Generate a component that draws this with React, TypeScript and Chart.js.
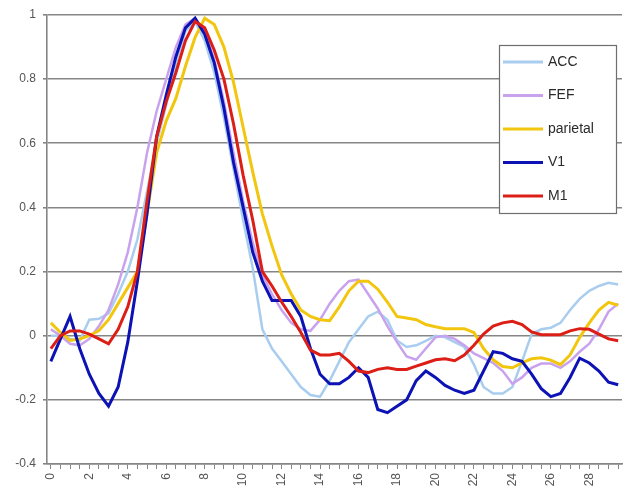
import { useEffect, useRef } from 'react';
import { Chart, registerables } from 'chart.js';

Chart.register(...registerables);

// time axis (sample positions)
const T = [
  0, 0.5, 1, 1.5, 2, 2.5, 3, 3.5, 4, 4.5,
  5, 5.5, 6, 6.5, 7, 7.5, 8, 8.5, 9, 9.5,
  10, 10.5, 11, 11.5, 12, 12.5, 13, 13.5, 14, 14.5,
  15, 15.5, 16, 16.5, 17, 17.5, 18, 18.5, 19, 19.5,
  20, 20.5, 21, 21.5, 22, 22.5, 23, 23.5, 24, 24.5,
  25, 25.5, 26, 26.5, 27, 27.5, 28, 28.5, 29, 29.5,
];

const ACC = [
  0.0, 0.0, -0.01, -0.015, 0.05, 0.053, 0.07, 0.13, 0.2, 0.3,
  0.45, 0.6, 0.72, 0.85, 0.95, 0.98, 0.92, 0.82, 0.68, 0.52,
  0.36, 0.21, 0.02, -0.04, -0.08, -0.12, -0.16, -0.185, -0.19, -0.14,
  -0.08, -0.02, 0.02, 0.06, 0.075, 0.05, -0.015, -0.035, -0.03, -0.016,
  0.0, -0.005, -0.02, -0.035, -0.09, -0.16, -0.18, -0.18, -0.16, -0.08,
  0.005, 0.02, 0.025, 0.04, 0.08, 0.115, 0.14, 0.155, 0.165, 0.16,
];

const FEF = [
  0.02, 0.0, -0.025, -0.03, -0.01, 0.03, 0.08, 0.16, 0.26, 0.4,
  0.57, 0.7, 0.8, 0.9, 0.97, 0.99, 0.95, 0.86, 0.73, 0.57,
  0.42, 0.29, 0.19, 0.13, 0.08, 0.04, 0.02, 0.015, 0.05, 0.1,
  0.14, 0.17, 0.175, 0.13, 0.085, 0.03, -0.02, -0.065, -0.075, -0.04,
  -0.005, 0.0, -0.01, -0.03, -0.055, -0.07, -0.085, -0.11, -0.15, -0.13,
  -0.1, -0.087, -0.087, -0.1, -0.08, -0.05, -0.025, 0.02, 0.075, 0.1,
];

const PARIETAL = [
  0.04, 0.01, -0.015, -0.01, 0.0, 0.016, 0.05, 0.1, 0.15, 0.2,
  0.38, 0.57, 0.67, 0.74, 0.84, 0.93, 0.99, 0.97, 0.9, 0.79,
  0.65, 0.51, 0.38, 0.28, 0.19, 0.13, 0.08, 0.06, 0.05, 0.047,
  0.09, 0.14, 0.17, 0.17, 0.145, 0.105, 0.06, 0.055, 0.05, 0.035,
  0.028, 0.022, 0.022, 0.022, 0.01, -0.04, -0.075, -0.096, -0.1, -0.085,
  -0.072, -0.069, -0.076, -0.09, -0.06, -0.005, 0.04, 0.08, 0.104, 0.095,
];

const V1 = [
  -0.08, -0.01, 0.06, -0.04, -0.12, -0.18, -0.22, -0.16, -0.02, 0.17,
  0.38, 0.62, 0.75, 0.87, 0.96, 0.99, 0.94, 0.85, 0.71, 0.54,
  0.4, 0.26, 0.17, 0.11, 0.11, 0.11, 0.06, -0.04, -0.12, -0.15,
  -0.15, -0.13, -0.1, -0.13, -0.23, -0.24, -0.22, -0.2, -0.14, -0.11,
  -0.13, -0.155, -0.17, -0.18, -0.17, -0.11, -0.05, -0.055, -0.072, -0.08,
  -0.12, -0.165, -0.19, -0.18, -0.13, -0.07, -0.085, -0.11, -0.145, -0.153,
];

const M1 = [
  -0.04, 0.0, 0.015, 0.015, 0.005, -0.01, -0.025, 0.02, 0.09, 0.2,
  0.42, 0.62, 0.73, 0.82, 0.92, 0.98, 0.96, 0.89, 0.8, 0.66,
  0.5, 0.36, 0.2, 0.155, 0.105, 0.06, 0.01, -0.045, -0.06, -0.06,
  -0.055, -0.08, -0.11, -0.115, -0.105, -0.1, -0.105, -0.105, -0.095, -0.085,
  -0.075, -0.072, -0.078, -0.06, -0.03, 0.005, 0.03, 0.04, 0.045, 0.035,
  0.012, 0.003, 0.003, 0.003, 0.015, 0.022, 0.02, 0.005, -0.01, -0.016,
];

const SERIES_NAMES = ['ACC', 'FEF', 'parietal', 'V1', 'M1'];
const SERIES_COLORS = ['#a9cdee', '#c9a2ee', '#f2c60e', '#0c12b4', '#dc1f16'];
const SERIES_WIDTHS = [2.5, 2.5, 3, 3, 3];
const X_TICK_LABELS = ['0', '2', '4', '6', '8', '10', '12', '14', '16', '18', '20', '22', '24', '26', '28'];
const X_MINOR_TICKS = T;

const FONT = '"Liberation Sans", Arial, sans-serif';
const GRID = '#858585';

const legendPlugin = {
  id: 'boxLegend',
  afterDraw(chart: any) {
    const { ctx, chartArea } = chart;
    const bx = chartArea.right - 123;
    const by = chartArea.top + 30;
    const bw = 117;
    const bh = 168;
    ctx.save();
    ctx.fillStyle = '#ffffff';
    ctx.fillRect(bx, by, bw, bh);
    ctx.strokeStyle = '#6e6e6e';
    ctx.lineWidth = 1.2;
    ctx.strokeRect(bx + 0.5, by + 0.5, bw, bh);
    ctx.font = `14px ${FONT}`;
    ctx.textBaseline = 'middle';
    chart.data.datasets.forEach((ds: any, i: number) => {
      const y = by + 17 + i * 33.5;
      ctx.strokeStyle = ds.borderColor;
      ctx.lineWidth = 3;
      ctx.beginPath();
      ctx.moveTo(bx + 4, y);
      ctx.lineTo(bx + 44, y);
      ctx.stroke();
      ctx.fillStyle = '#2a2a2a';
      ctx.fillText(ds.label, bx + 49, y);
    });
    ctx.restore();
  },
};

export default function App() {
  const ref = useRef<HTMLCanvasElement>(null);
  useEffect(() => {
    const series = [ACC, FEF, PARIETAL, V1, M1];
    const chart = new Chart(ref.current!, {
      type: 'line',
      data: {
        datasets: series.map((vals, i) => ({
          label: SERIES_NAMES[i],
          data: vals.map((v, j) => ({ x: T[j], y: v })),
          borderColor: SERIES_COLORS[i],
          backgroundColor: SERIES_COLORS[i],
          borderWidth: SERIES_WIDTHS[i],
          pointRadius: 0,
          tension: 0,
          order: 4 - i,
        })),
      },
      options: {
        animation: false,
        responsive: true,
        maintainAspectRatio: false,
        layout: { padding: { top: 15, right: 3, left: 0, bottom: 0 } },
        plugins: { legend: { display: false }, tooltip: { enabled: false } },
        scales: {
          x: {
            type: 'linear',
            min: -0.2,
            max: 29.7,
            afterBuildTicks: (scale: any) => {
              scale.ticks = X_MINOR_TICKS.map((v) => ({ value: v }));
            },
            afterFit: (scale: any) => {
              scale.height = 34;
              scale.paddingLeft = 0;
              scale.paddingRight = 0;
            },
            ticks: {
              autoSkip: false,
              minRotation: 90,
              maxRotation: 90,
              padding: 4,
              color: '#555',
              font: { family: FONT, size: 12 },
              callback: (v: any) => (X_TICK_LABELS.includes(String(v)) ? String(v) : ''),
            },
            grid: { drawOnChartArea: false, drawTicks: true, tickLength: 5, color: GRID, lineWidth: 1 },
            border: { display: true, color: GRID, width: 1.5 },
          },
          y: {
            min: -0.4,
            max: 1,
            afterFit: (scale: any) => {
              scale.width = 47;
              scale.paddingTop = 0;
              scale.paddingBottom = 0;
            },
            ticks: {
              stepSize: 0.2,
              padding: 7,
              color: '#555',
              font: { family: FONT, size: 12 },
              callback: (v: any) => String(Math.round(Number(v) * 10) / 10),
            },
            grid: { color: GRID, lineWidth: 1.6, drawTicks: true, tickLength: 4 },
            border: { display: true, color: GRID, width: 1.6 },
          },
        },
      },
      plugins: [legendPlugin],
    });
    return () => chart.destroy();
  }, []);
  return (
    <div style={{ position: 'fixed', left: 0, top: 0, width: 625, height: 498, background: '#fff' }}>
      <canvas ref={ref} />
    </div>
  );
}
